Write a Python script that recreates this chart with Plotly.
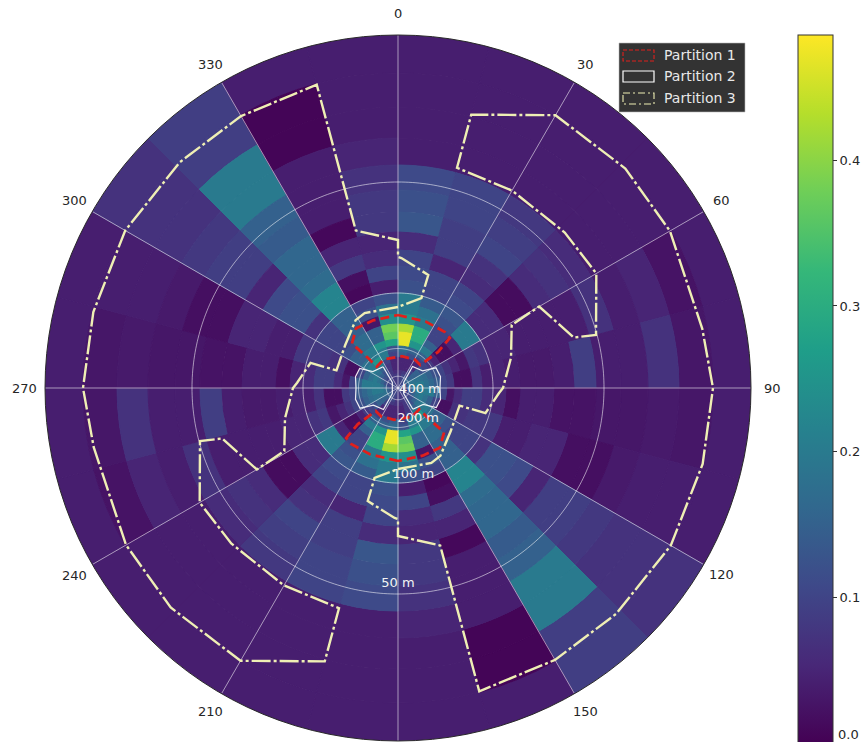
import math
import numpy as np
import plotly.graph_objects as go

# radial coordinate of the spectrum (axis units), bin edges from outer to inner
r_edges = [353, 315, 281, 250, 223, 198, 176, 156, 138, 122, 108, 95, 84, 74, 64, 56, 48.7, 42, 36,
           30.7, 25.9, 21.6, 17.7, 14.2, 11.1, 8.3, 5.8, 3.6, 0]
sector_starts = [0, 15, 30, 45, 60, 75, 90, 105, 120, 135, 150, 165]

# spectrum values by sector, outer radial bin first; the spectrum is point symmetric
s000 = [.04,.04,.04,.04,.11,.12,.13,.06,.10,.11,.12,.20,.20,.25,.42,.47,.47,.17,.15,.05,.05,.05,.07,.07,.08,.08,.08,.08]
s015 = [.04,.04,.04,.04,.10,.10,.09,.09,.05,.10,.10,.14,.18,.20,.30,.30,.25,.15,.12,.05,.05,.05,.08,.10,.10,.10,.10,.10]
s030 = [.04,.04,.04,.04,.08,.09,.10,.07,.06,.10,.11,.13,.12,.10,.10,.15,.20,.15,.10,.05,.06,.10,.10,.12,.12,.10,.10,.10]
s045 = [.04,.04,.04,.04,.06,.07,.06,.015,.015,.06,.06,.20,.20,.05,.02,.02,.05,.08,.10,.12,.15,.15,.15,.15,.15,.12,.10,.10]
s060 = [.04,.025,.05,.04,.07,.04,.04,.04,.04,.05,.05,.07,.08,.03,.05,.07,.10,.12,.15,.17,.18,.18,.18,.18,.15,.12,.10,.10]
s075 = [.04,.03,.07,.04,.04,.09,.04,.035,.035,.04,.05,.04,.07,.02,.02,.08,.10,.14,.16,.18,.20,.20,.20,.18,.15,.12,.10,.10]
s090 = [.04,.03,.035,.03,.03,.025,.025,.04,.04,.02,.05,.06,.09,.09,.06,.03,.10,.15,.20,.20,.20,.20,.18,.15,.12,.10,.10,.10]
s105 = [.04,.04,.04,.035,.02,.02,.05,.05,.04,.04,.08,.08,.08,.07,.07,.02,.02,.10,.15,.18,.20,.18,.15,.12,.10,.10,.10,.10]
s120 = [.07,.07,.07,.08,.09,.09,.05,.11,.12,.12,.07,.10,.10,.10,.12,.15,.15,.18,.20,.20,.18,.15,.12,.10,.10,.10,.10,.10]
s135 = [.09,.09,.20,.20,.15,.14,.16,.16,.17,.22,.22,.15,.15,.15,.17,.17,.20,.20,.25,.20,.15,.12,.12,.10,.10,.10,.10,.10]
s150 = [.04,.005,.005,.04,.04,.04,.01,.05,.08,.02,.01,.10,.12,.03,.15,.15,.25,.20,.20,.10,.08,.08,.08,.08,.08,.08,.08,.08]
s165 = [.04,.04,.04,.05,.07,.08,.08,.05,.06,.10,.04,.12,.18,.24,.38,.36,.28,.12,.10,.05,.05,.05,.06,.08,.08,.08,.08,.08]
half_spectrum = [s000, s015, s030, s045, s060, s075, s090, s105, s120, s135, s150, s165]

# partition contours (one lobe each; the other lobe is the same rotated by 180 degrees)
p1_theta = [0, 23, 40, 46, 48, 44, 31, 7, 333, 315, 315, 314, 325, 340, 0]
p1_r = [73, 72, 73, 72, 54, 32, 33, 32, 32, 30, 42, 64, 73, 72, 73]
p2_theta = [325, 303, 297, 285, 270, 255, 242, 235, 214, 225, 315, 325]
p2_r = [26, 30, 43, 44, 42, 44, 43, 30, 26, 8, 8, 26]
p3_theta = [0, 336, 328, 309, 286, 286, 273, 270, 255, 241, 240, 254, 255, 240, 227, 210, 195, 195,
            210, 226, 240, 259, 270, 284, 300, 316, 330, 345, 345, 0, 0, 1.5, 15, 14.6, 0]
p3_r = [81, 82, 80, 68, 64, 91, 101, 105, 117, 130, 163, 183, 205, 229, 228, 228, 228, 283,
        315, 316, 314, 310, 315, 314, 315, 314, 314, 314, 163, 148, 131, 130, 117, 93, 81]

# axes
range_wavelength_labels = ["400 m", "200 m", "100 m", "50 m"]
range_tick_r = [11.75, 39.5, 95, 206]
label_theta = [95, 147, 170, 180]
label_r = [22, 37, 88, 196]
angle_ticks = list(range(0, 360, 30))
angle_label_theta = [0, 30, 60, 90, 120, 150, 210, 240, 270, 300, 330]
cb_ticks = [0.1, 0.2, 0.3, 0.4]
VMIN, VMAX = 0.0, 0.486

GRID = "rgba(255,255,255,0.55)"
P1_COLOR, P2_COLOR, P3_COLOR = "#e0201c", "rgba(255,255,255,0.9)", "#efefb4"

theta_c, base, width_r, vals = [], [], [], []
for rot in (0, 180):
    for start, col in zip(sector_starts, half_spectrum):
        for i, v in enumerate(col):
            theta_c.append(start + rot + 7.5)
            base.append(r_edges[i + 1])
            width_r.append(r_edges[i] - r_edges[i + 1])
            vals.append(v)

fig = go.Figure()
fig.add_trace(go.Barpolar(
    r=width_r, base=base, theta=theta_c, width=[15] * len(theta_c), showlegend=False,
    marker=dict(color=vals, colorscale="Viridis", cmin=VMIN, cmax=VMAX,
                line=dict(color=vals, colorscale="Viridis", cmin=VMIN, cmax=VMAX, width=1),
                colorbar=dict(x=798 / 867, xanchor="left", thickness=35, thicknessmode="pixels",
                              lenmode="pixels", len=708, y=1 - 35 / 742, yanchor="top", ypad=0, xpad=0,
                              tickmode="array", tickvals=cb_ticks, ticktext=[f"{t:.1f}" for t in cb_ticks],
                              ticks="outside", ticklen=4, tickcolor="#333333",
                              tickfont=dict(family="DejaVu Sans", size=13, color="#262626"),
                              outlinecolor="#333333", outlinewidth=1)),
))
# grid on top of the cells, as in the reference
ring_t = np.linspace(0, 360, 361)
for rv in range_tick_r:
    fig.add_trace(go.Scatterpolar(theta=ring_t, r=[rv] * len(ring_t), mode="lines", showlegend=False,
                                  hoverinfo="skip", line=dict(color=GRID, width=1)))
for a in angle_ticks:
    fig.add_trace(go.Scatterpolar(theta=[a, a], r=[0, r_edges[0]], mode="lines", showlegend=False,
                                  hoverinfo="skip", line=dict(color=GRID, width=1)))


def lobes(t, r):
    t = list(t)
    return t + [None] + [(x + 180) % 360 for x in t], list(r) + [None] + list(r)


for name, t, r, col, dash, lw in [
    ("Partition 1", p1_theta, p1_r, P1_COLOR, "9px,5px", 2.8),
    ("Partition 2", p2_theta, p2_r, P2_COLOR, "solid", 1.2),
    ("Partition 3", p3_theta, p3_r, P3_COLOR, "19px,3px,3px,3px", 2.4),
]:
    tt, rr = lobes(t, r)
    fig.add_trace(go.Scatterpolar(theta=tt, r=rr, mode="lines", name=name, showlegend=False,
                                  line=dict(color=col, width=lw, dash=dash)))

fig.add_trace(go.Scatterpolar(theta=label_theta, r=label_r, mode="text", text=range_wavelength_labels,
                              showlegend=False, hoverinfo="skip",
                              textfont=dict(family="DejaVu Sans", size=13, color="#f4f4f4")))

fig.update_layout(
    width=867, height=742, autosize=False, margin=dict(l=0, r=0, t=0, b=0, autoexpand=False),
    paper_bgcolor="white",
    polar=dict(
        domain=dict(x=[45 / 867, 751 / 867], y=[1 - 741 / 742, 1 - 35 / 742]),
        bgcolor="white", barmode="overlay", bargap=0,
        radialaxis=dict(range=[0, r_edges[0]], visible=False, showgrid=False),
        angularaxis=dict(direction="clockwise", rotation=90, tickmode="array", tickvals=angle_ticks,
                         showticklabels=False, showgrid=False, showline=True,
                         linecolor="#2b2b2b", linewidth=1, ticks=""),
    ),
)


def px(x):
    return x / 867


def py(y):
    return 1 - y / 742


# angular tick labels sit just outside the disc
CX, CY, LABEL_R = 398, 388, 374
for a in angle_label_theta:
    rad = math.radians(a)
    fig.add_annotation(xref="paper", yref="paper", x=px(CX + LABEL_R * math.sin(rad)),
                       y=py(CY - LABEL_R * math.cos(rad)), text=str(a), showarrow=False,
                       xanchor="center", yanchor="middle",
                       font=dict(family="DejaVu Sans", size=13, color="#262626"))

# legend box
legend_names = ["Partition 1", "Partition 2", "Partition 3"]
legend_y = [55, 76, 98]
legend_styles = [(P1_COLOR, "4px,2px", 1.1), ("#ffffff", "solid", 1.2), (P3_COLOR, "7px,3px,2px,3px", 1.1)]
fig.add_shape(type="rect", xref="paper", yref="paper", x0=px(619), x1=px(745), y0=py(43), y1=py(112),
              fillcolor="rgba(40,40,40,0.95)", line=dict(color="#bbbbbb", width=0.6))
for nm, ly, (c, d, w) in zip(legend_names, legend_y, legend_styles):
    fig.add_shape(type="rect", xref="paper", yref="paper", x0=px(623), x1=px(654), y0=py(ly - 5), y1=py(ly + 6),
                  line=dict(color=c, width=w, dash=d))
    fig.add_annotation(xref="paper", yref="paper", x=px(664), y=py(ly), text=nm, showarrow=False,
                       xanchor="left", yanchor="middle", xshift=-2,
                       font=dict(family="DejaVu Sans", size=14, color="#e8e8e8"))

# colorbar zero label: the reference shows it at the window's lower edge
fig.add_annotation(xref="paper", yref="paper", x=px(838), y=0, text="0.0", showarrow=False,
                   xanchor="left", yanchor="bottom", yshift=-2, xshift=-2,
                   font=dict(family="DejaVu Sans", size=13, color="#262626"))

fig.write_html("out.html", post_script="document.body.style.margin='0';",
               config={"displayModeBar": False})
